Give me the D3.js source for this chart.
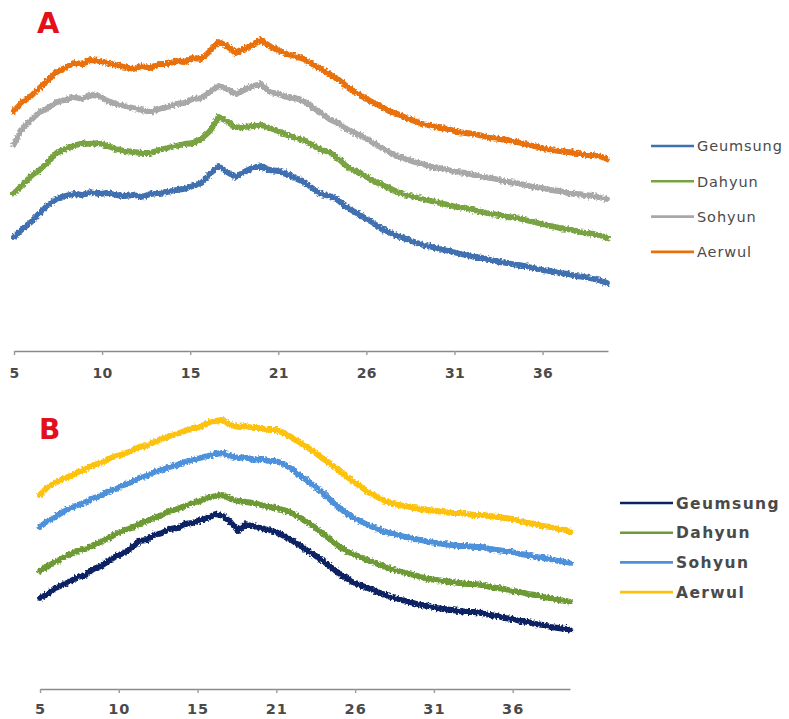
<!DOCTYPE html>
<html>
<head>
<meta charset="utf-8">
<script src="https://cdn.jsdelivr.net/npm/d3@7"></script>
<style>
  html, body { margin: 0; padding: 0; background: #fff; }
  svg { display: block; }
</style>
</head>
<body>
<div id="chart"></div>
<script>
// 2-theta positions shared by every pattern
const theta = [5, 5.5, 6, 6.5, 7, 7.5, 8, 8.5, 9, 9.5, 10, 10.5, 11, 11.5, 12, 12.5, 13, 13.5, 14, 14.5,
  15, 15.5, 16, 16.5, 17, 17.5, 18, 18.5, 19, 19.5, 20, 20.5, 21, 21.5, 22, 22.5, 23, 23.5, 24, 24.5,
  25, 25.5, 26, 26.5, 27, 27.5, 28, 28.5, 29, 29.5, 30, 30.5, 31, 31.5, 32, 32.5, 33, 33.5, 34, 34.5,
  35, 35.5, 36, 36.5, 37, 37.5, 38, 38.5, 39, 39.5, 39.8];

// category axis (Excel style) : tick positions and their printed labels
const tickPos = [5, 10.17, 15.34, 20.51, 25.68, 30.85, 36.02];
const tickLabels = ["5", "10", "15", "21", "26", "31", "36"];

const names = ["Geumsung", "Dahyun", "Sohyun", "Aerwul"];

// panel A (stacked, arbitrary units)
const aGeumsung = [114,122,129,138,146,152,155,157,156,159, 157,158,156,155,156,154,157,158,159,161,
  162,165,168,177,185,179,174,179,183,185, 181,180,177,173,169,163,157,155,151,144,
  139,134,129,123,119,115,112,109,106,104, 102,100,98,96,94,93,91,89,88,86,
  85,83,81,80,78,77,75,74,72,70, 68];
const aDahyun = [158,166,175,181,189,198,202,205,208,207, 208,205,202,200,199,198,198,201,203,205,
  207,208,212,220,234,230,223,224,225,226, 223,220,216,213,211,206,201,199,193,185,
  180,176,171,167,163,159,156,154,152,150, 148,146,144,143,141,139,137,136,134,133,
  131,129,127,125,123,122,120,118,117,115, 113];
const aSohyun = [207,223,231,239,243,249,251,254,252,256, 255,250,247,245,243,241,239,242,244,247,
  248,252,253,259,265,262,257,261,265,267, 259,257,254,253,250,244,238,232,228,222,
  218,214,209,204,199,195,192,189,187,184, 183,181,179,178,176,174,173,171,169,168,
  166,164,163,161,160,158,157,156,155,153, 152];
const aAerwul = [240,249,255,263,271,279,283,288,287,291, 290,288,286,284,282,285,283,287,287,290,
  289,293,292,300,309,305,298,302,306,311, 305,301,297,295,292,287,282,277,272,265,
  259,254,249,245,240,237,233,230,227,225, 223,222,219,218,217,215,213,212,211,209,
  207,205,203,201,200,199,198,196,196,194, 192];

// panel B
const bGeumsung = [91,95,101,104,108,112,114,120,123,128, 133,136,141,148,149,154,156,160,161,165,
  166,169,171,175,173,167,158,165,163,161, 159,157,153,149,144,139,134,129,123,117,
  112,107,104,101,98,95,92,90,88,86, 84,83,81,80,79,78,77,77,76,74,
  73,71,70,68,67,65,64,62,61,60, 59];
const bDahyun = [118,123,127,131,135,138,140,144,147,151, 155,159,161,165,168,171,174,178,180,183,
  186,188,191,193,194,190,188,187,186,184, 182,181,179,176,172,167,162,156,150,144,
  139,135,132,129,126,123,120,118,116,114, 112,110,109,108,107,106,105,105,104,102,
  101,100,98,97,95,94,92,91,89,88, 87];
const bSohyun = [162,168,172,177,181,184,187,191,193,198, 200,204,207,211,213,217,219,222,224,227,
  229,231,233,235,236,233,231,232,229,230, 228,228,225,220,214,209,203,197,190,183,
  177,172,168,164,161,158,156,154,152,150, 149,147,146,145,144,143,143,142,142,140,
  139,138,137,135,134,132,131,130,128,127, 126];
const bAerwul = [194,202,206,210,213,217,220,224,226,230, 233,235,238,242,243,247,250,253,255,258,
  261,262,266,268,269,264,262,263,261,261, 259,259,256,252,247,242,237,231,226,220,
  214,208,203,197,193,189,186,184,183,181, 180,179,178,177,176,176,175,174,174,173,
  172,171,170,168,166,165,163,162,160,159, 157];

const colorsA = ["#3f70b0", "#79a342", "#a8a8a8", "#e8700f"];
const colorsB = ["#0c2263", "#6d9a36", "#4d91da", "#fcc20c"];

const width = 789, height = 719;

const svg = d3.select("#chart").append("svg")
    .attr("width", width)
    .attr("height", height)
    .attr("font-family", "'DejaVu Sans', Verdana, sans-serif");

// rough edges like the scanned figure
const defs = svg.append("defs");
const f = defs.append("filter").attr("id", "rough")
    .attr("x", "-5%").attr("y", "-20%").attr("width", "110%").attr("height", "140%");
f.append("feTurbulence").attr("type", "fractalNoise").attr("baseFrequency", 0.5)
    .attr("numOctaves", 2).attr("seed", 7).attr("result", "noise");
f.append("feDisplacementMap").attr("in", "SourceGraphic").attr("in2", "noise")
    .attr("scale", 5).attr("xChannelSelector", "R").attr("yChannelSelector", "G");

function panel(p) {
    let x = d3.scaleLinear().domain(p.xDomain).range(p.xRange);
    let y = d3.scaleLinear().domain(p.yDomain).range(p.yRange);
    let g = svg.append("g");

    // axis
    let ax = g.append("g")
        .attr("transform", `translate(0,${p.yRange[0]})`)
        .call(d3.axisBottom(x)
            .tickValues(tickPos)
            .tickFormat((d, i) => tickLabels[i])
            .tickSize(4)
            .tickSizeOuter(0));
    ax.select(".domain").attr("stroke", "#8a8a8a").attr("stroke-width", 1.6);
    ax.selectAll(".tick line").attr("stroke", "#9a9a9a").attr("stroke-width", 1.4);
    ax.selectAll(".tick text")
        .attr("fill", "#4a4a4a")
        .attr("font-size", p.tickFont)
        .attr("font-weight", "bold")
        .attr("letter-spacing", p.tickSpacing)
        .attr("font-family", "'DejaVu Sans', Verdana, sans-serif")
        .attr("y", p.tickY)
        .attr("dy", 0);

    // patterns, drawn from top of the legend order downward
    let line = d3.line().x((d, i) => x(theta[i])).y(d => y(d));
    g.append("g").attr("filter", "url(#rough)")
        .selectAll("path")
        .data(p.series.slice().reverse())
        .join("path")
        .attr("d", d => line(d.values))
        .attr("fill", "none")
        .attr("stroke", d => d.color)
        .attr("stroke-width", 5.8)
        .attr("stroke-linejoin", "round")
        .attr("stroke-linecap", "round");

    // panel letter
    g.append("text")
        .attr("x", p.letterX).attr("y", p.letterY)
        .attr("fill", "#e3101c")
        .attr("font-size", p.letterSize)
        .attr("font-weight", "bold")
        .text(p.letter);

    // legend
    let lg = g.append("g").selectAll("g")
        .data(p.series)
        .join("g")
        .attr("transform", (d, i) => `translate(${p.legX},${p.legY + i * p.legStep})`);
    lg.append("line")
        .attr("x1", 0).attr("x2", p.legLen)
        .attr("stroke", d => d.color)
        .attr("stroke-width", 2.6);
    lg.append("text")
        .attr("x", p.legLen + 3)
        .attr("dy", "0.36em")
        .attr("fill", "#4a4a4a")
        .attr("font-size", p.legFont)
        .attr("font-weight", p.legWeight)
        .attr("letter-spacing", p.legSpacing)
        .text(d => d.name);
}

panel({
    letter: "A", letterX: 37, letterY: 33, letterSize: 29,
    xDomain: [5, 39.86], xRange: [14, 608],
    yDomain: [0, 331], yRange: [351, 20],
    tickFont: 14, tickSpacing: 0.3, tickY: 27,
    series: [aGeumsung, aDahyun, aSohyun, aAerwul].map((v, i) => ({name: names[i], values: v, color: colorsA[i]})),
    legX: 651, legY: 146, legStep: 35.3, legLen: 43, legFont: 14.5, legWeight: "normal", legSpacing: 0.9
});

panel({
    letter: "B", letterX: 39, letterY: 439, letterSize: 28,
    xDomain: [5, 39.78], xRange: [40, 570],
    yDomain: [0, 290], yRange: [689, 399],
    tickFont: 14.5, tickSpacing: 1, tickY: 25,
    series: [bGeumsung, bDahyun, bSohyun, bAerwul].map((v, i) => ({name: names[i], values: v, color: colorsB[i]})),
    legX: 620, legY: 503, legStep: 29.7, legLen: 53, legFont: 15.5, legWeight: "bold", legSpacing: 1.4
});
</script>
</body>
</html>
